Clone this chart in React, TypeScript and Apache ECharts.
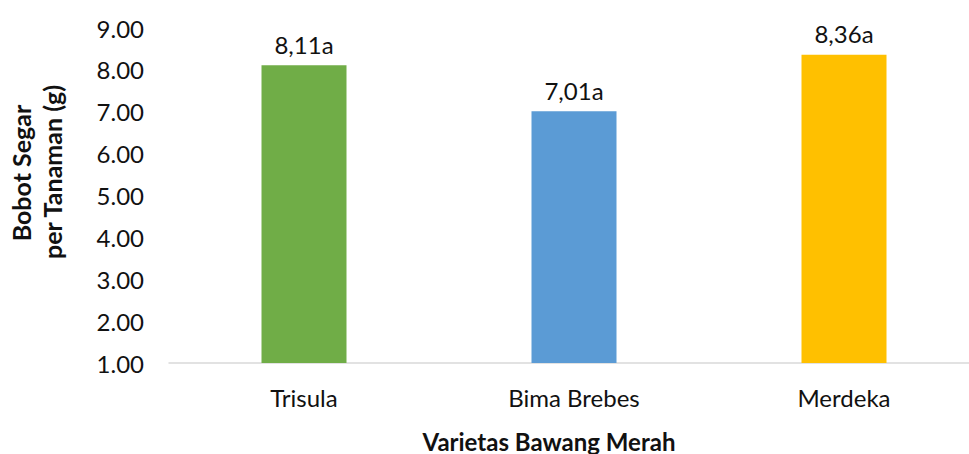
import React, { useEffect, useRef } from "react";
import * as echarts from "echarts";

const categories = ["Trisula", "Bima Brebes", "Merdeka"];
const values = [8.11, 7.01, 8.36];
const notation = ["a", "a", "a"];
const barColors = ["#70ad47", "#5b9bd5", "#ffc000"];
const yTitleLines = ["Bobot Segar", "per Tanaman (g)"];
const xTitle = "Varietas Bawang Merah";

const FONT = "Lato";

export default function App() {
  const ref = useRef<HTMLDivElement>(null);
  useEffect(() => {
    if (!ref.current) return;
    const chart = echarts.init(ref.current, null, { renderer: "svg" });
    chart.setOption({
      animation: false,
      backgroundColor: "#ffffff",
      grid: {
        left: 169,
        top: 28,
        width: 810,
        height: 335,
        containLabel: false,
        outerBoundsMode: "none",
      },
      xAxis: {
        type: "category",
        data: categories,
        axisLine: { show: true, lineStyle: { color: "#d9d9d9", width: 1.5 } },
        axisTick: { show: false },
        axisLabel: { color: "#111", fontFamily: FONT, fontSize: 24, margin: 22 },
      },
      yAxis: {
        type: "value",
        min: 1,
        max: 9,
        interval: 1,
        axisLine: { show: false },
        axisTick: { show: false },
        splitLine: { show: false },
        axisLabel: {
          color: "#111",
          fontFamily: FONT,
          fontSize: 24,
          margin: 25,
          formatter: (v: number) => v.toFixed(2),
        },
      },
      series: [
        {
          type: "bar",
          barWidth: 85,
          data: values.map((v, i) => ({ value: v, itemStyle: { color: barColors[i] } })),
          label: {
            show: true,
            position: "top",
            distance: 9,
            color: "#111",
            fontFamily: FONT,
            fontSize: 24,
            formatter: (p: any) => p.value.toFixed(2).replace(".", ",") + notation[p.dataIndex],
          },
        },
      ],
      graphic: [
        {
          type: "text",
          x: 21,
          y: 173,
          rotation: Math.PI / 2,
          style: {
            text: yTitleLines[0],
            fontFamily: FONT,
            fontSize: 25,
            fontWeight: "bold",
            fill: "#111",
            align: "center",
            verticalAlign: "middle",
          },
        },
        {
          type: "text",
          x: 52,
          y: 172,
          rotation: Math.PI / 2,
          style: {
            text: yTitleLines[1],
            fontFamily: FONT,
            fontSize: 25,
            fontWeight: "bold",
            fill: "#111",
            align: "center",
            verticalAlign: "middle",
          },
        },
        {
          type: "text",
          x: 549,
          y: 441,
          style: {
            text: xTitle,
            fontFamily: FONT,
            fontSize: 24,
            fontWeight: "bold",
            fill: "#111",
            align: "center",
            verticalAlign: "middle",
          },
        },
      ],
    });
    return () => chart.dispose();
  }, []);
  return (
    <div
      ref={ref}
      style={{ position: "fixed", left: 0, top: 0, width: 969, height: 454 }}
    />
  );
}
